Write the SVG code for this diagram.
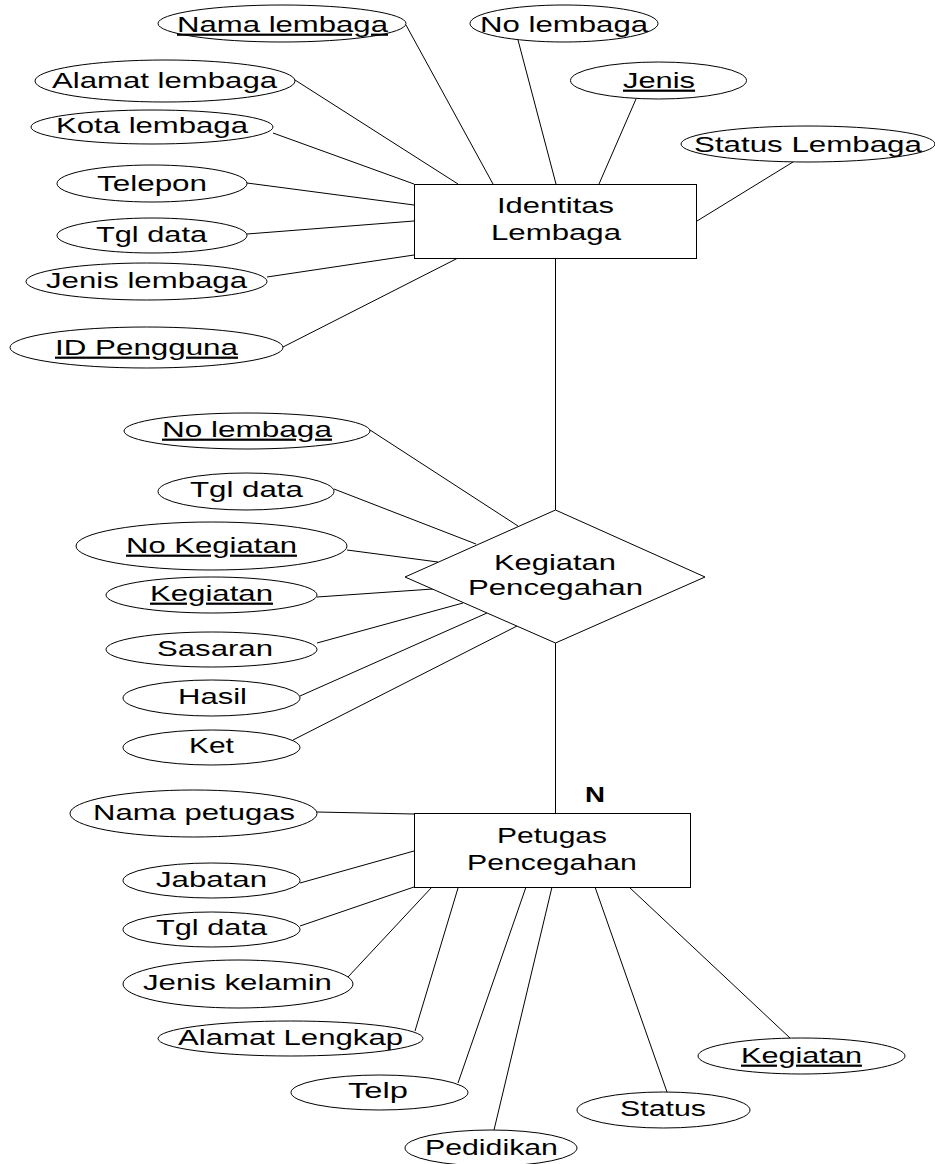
<svg xmlns="http://www.w3.org/2000/svg" width="935" height="1164" viewBox="0 0 935 1164">
  <style>
    .shape { fill: #ffffff; stroke: #000000; stroke-width: 1; }
    .link { stroke: #000000; stroke-width: 1; fill: none; }
    text { font-family: "Liberation Sans", Arial, sans-serif; font-size: 22px; fill: #000000; }
    .key { text-decoration: underline; }
    .card { font-weight: bold; }
  </style>
  <!-- labels are set in a horizontally widened face: matrix(1.45 0 0 1 x y) -->

  <!-- connectors -->
  <g id="connectors">
    <!-- Identitas Lembaga attributes -->
    <line class="link" x1="406" y1="25" x2="493" y2="184"/>
    <line class="link" x1="295" y1="80" x2="458" y2="184"/>
    <line class="link" x1="273" y1="133" x2="414" y2="184"/>
    <line class="link" x1="247" y1="183" x2="414" y2="205"/>
    <line class="link" x1="247" y1="234" x2="414" y2="221"/>
    <line class="link" x1="267" y1="277" x2="414" y2="255"/>
    <line class="link" x1="283" y1="347" x2="458" y2="258"/>
    <line class="link" x1="518" y1="40" x2="556" y2="184"/>
    <line class="link" x1="636" y1="99" x2="599" y2="184"/>
    <line class="link" x1="793" y1="162" x2="697" y2="221"/>
    <!-- entity to relationship -->
    <line class="link" x1="555.5" y1="258" x2="555.5" y2="510"/>
    <!-- Kegiatan Pencegahan attributes -->
    <line class="link" x1="370" y1="430" x2="518" y2="526"/>
    <line class="link" x1="334" y1="489" x2="476" y2="544"/>
    <line class="link" x1="347" y1="550" x2="438" y2="562"/>
    <line class="link" x1="317" y1="597" x2="433" y2="589"/>
    <line class="link" x1="317" y1="643" x2="463" y2="603"/>
    <line class="link" x1="300" y1="696" x2="487" y2="613"/>
    <line class="link" x1="293" y1="740" x2="517" y2="626"/>
    <!-- relationship to entity -->
    <line class="link" x1="555.5" y1="643" x2="555.5" y2="813"/>
    <!-- Petugas Pencegahan attributes -->
    <line class="link" x1="317" y1="812" x2="414" y2="814"/>
    <line class="link" x1="300" y1="883" x2="414" y2="851"/>
    <line class="link" x1="300" y1="926" x2="414" y2="887"/>
    <line class="link" x1="348" y1="977" x2="432" y2="887"/>
    <line class="link" x1="415" y1="1031" x2="458" y2="888"/>
    <line class="link" x1="458" y1="1083" x2="526" y2="887"/>
    <line class="link" x1="494" y1="1130" x2="552" y2="887"/>
    <line class="link" x1="667" y1="1092" x2="595" y2="887"/>
    <line class="link" x1="790" y1="1038" x2="629" y2="887"/>
  </g>

  <!-- entity: Identitas Lembaga -->
  <g id="identitas-lembaga">
    <rect class="shape" x="414.5" y="184.5" width="282" height="74"/>
    <text transform="matrix(1.45 0 0 1 497 213)" textLength="80.7" lengthAdjust="spacingAndGlyphs">Identitas</text>
    <text transform="matrix(1.45 0 0 1 491 240)" textLength="89.7" lengthAdjust="spacingAndGlyphs">Lembaga</text>
  </g>

  <g id="attr-nama-lembaga">
    <ellipse class="shape" cx="282" cy="23.5" rx="124" ry="18.5"/>
    <text class="key" transform="matrix(1.45 0 0 1 177 32)" textLength="145.5" lengthAdjust="spacingAndGlyphs">Nama lembaga</text>
  </g>
  <g id="attr-no-lembaga">
    <ellipse class="shape" cx="564" cy="23.5" rx="94" ry="18.5"/>
    <text transform="matrix(1.45 0 0 1 480 32)" textLength="115.9" lengthAdjust="spacingAndGlyphs">No lembaga</text>
  </g>
  <g id="attr-jenis">
    <ellipse class="shape" cx="658.5" cy="80.5" rx="88" ry="18.5"/>
    <text class="key" transform="matrix(1.45 0 0 1 623 88)" textLength="49.7" lengthAdjust="spacingAndGlyphs">Jenis</text>
  </g>
  <g id="attr-status-lembaga">
    <ellipse class="shape" cx="808" cy="144" rx="127" ry="18"/>
    <text transform="matrix(1.45 0 0 1 694 152)" textLength="157.2" lengthAdjust="spacingAndGlyphs">Status Lembaga</text>
  </g>
  <g id="attr-alamat-lembaga">
    <ellipse class="shape" cx="165" cy="81" rx="130" ry="21"/>
    <text transform="matrix(1.45 0 0 1 52 88)" textLength="155.2" lengthAdjust="spacingAndGlyphs">Alamat lembaga</text>
  </g>
  <g id="attr-kota-lembaga">
    <ellipse class="shape" cx="152" cy="127" rx="121" ry="17"/>
    <text transform="matrix(1.45 0 0 1 56 133)" textLength="132.4" lengthAdjust="spacingAndGlyphs">Kota lembaga</text>
  </g>
  <g id="attr-telepon">
    <ellipse class="shape" cx="152" cy="183.5" rx="95" ry="18.5"/>
    <text transform="matrix(1.45 0 0 1 97 191)" textLength="75.9" lengthAdjust="spacingAndGlyphs">Telepon</text>
  </g>
  <g id="attr-tgl-data-1">
    <ellipse class="shape" cx="152" cy="235.5" rx="95" ry="17.5"/>
    <text transform="matrix(1.45 0 0 1 96 242)" textLength="76.6" lengthAdjust="spacingAndGlyphs">Tgl data</text>
  </g>
  <g id="attr-jenis-lembaga">
    <ellipse class="shape" cx="146.5" cy="281.5" rx="120.5" ry="18.5"/>
    <text transform="matrix(1.45 0 0 1 46 288)" textLength="138.6" lengthAdjust="spacingAndGlyphs">Jenis lembaga</text>
  </g>
  <g id="attr-id-pengguna">
    <ellipse class="shape" cx="146.5" cy="347.5" rx="136.5" ry="20.5"/>
    <text class="key" transform="matrix(1.45 0 0 1 55 355)" textLength="126.2" lengthAdjust="spacingAndGlyphs">ID Pengguna</text>
  </g>

  <!-- relationship: Kegiatan Pencegahan -->
  <g id="kegiatan-pencegahan">
    <polygon class="shape" points="555.5,510 705,577 555.5,643 405,577"/>
    <text transform="matrix(1.45 0 0 1 494 570)" textLength="84.1" lengthAdjust="spacingAndGlyphs">Kegiatan</text>
    <text transform="matrix(1.45 0 0 1 468 595)" textLength="120.7" lengthAdjust="spacingAndGlyphs">Pencegahan</text>
  </g>

  <g id="attr-no-lembaga-2">
    <ellipse class="shape" cx="247" cy="431" rx="123" ry="18"/>
    <text class="key" transform="matrix(1.45 0 0 1 162 437)" textLength="117.2" lengthAdjust="spacingAndGlyphs">No lembaga</text>
  </g>
  <g id="attr-tgl-data-2">
    <ellipse class="shape" cx="246" cy="491.5" rx="88" ry="18.5"/>
    <text transform="matrix(1.45 0 0 1 190 497)" textLength="77.9" lengthAdjust="spacingAndGlyphs">Tgl data</text>
  </g>
  <g id="attr-no-kegiatan">
    <ellipse class="shape" cx="211.5" cy="546" rx="135.5" ry="24"/>
    <text class="key" transform="matrix(1.45 0 0 1 126 553)" textLength="117.9" lengthAdjust="spacingAndGlyphs">No Kegiatan</text>
  </g>
  <g id="attr-kegiatan-1">
    <ellipse class="shape" cx="211.5" cy="595" rx="105.5" ry="18"/>
    <text class="key" transform="matrix(1.45 0 0 1 150 601)" textLength="84.8" lengthAdjust="spacingAndGlyphs">Kegiatan</text>
  </g>
  <g id="attr-sasaran">
    <ellipse class="shape" cx="211.5" cy="649.5" rx="105.5" ry="17.5"/>
    <text transform="matrix(1.45 0 0 1 157 656)" textLength="80" lengthAdjust="spacingAndGlyphs">Sasaran</text>
  </g>
  <g id="attr-hasil">
    <ellipse class="shape" cx="211.5" cy="698" rx="88.5" ry="18"/>
    <text transform="matrix(1.45 0 0 1 178 704)" textLength="47.6" lengthAdjust="spacingAndGlyphs">Hasil</text>
  </g>
  <g id="attr-ket">
    <ellipse class="shape" cx="211.5" cy="747.5" rx="88.5" ry="17.5"/>
    <text transform="matrix(1.45 0 0 1 189 753)" textLength="31" lengthAdjust="spacingAndGlyphs">Ket</text>
  </g>

  <!-- cardinality -->
  <text class="card" transform="matrix(1.45 0 0 1 585 802)" textLength="13.8" lengthAdjust="spacingAndGlyphs">N</text>

  <!-- entity: Petugas Pencegahan -->
  <g id="petugas-pencegahan">
    <rect class="shape" x="414.5" y="813.5" width="276" height="74"/>
    <text transform="matrix(1.45 0 0 1 497 843)" textLength="75.9" lengthAdjust="spacingAndGlyphs">Petugas</text>
    <text transform="matrix(1.45 0 0 1 467 870)" textLength="117.2" lengthAdjust="spacingAndGlyphs">Pencegahan</text>
  </g>

  <g id="attr-nama-petugas">
    <ellipse class="shape" cx="193.5" cy="813.5" rx="123.5" ry="23.5"/>
    <text transform="matrix(1.45 0 0 1 93 820)" textLength="139.3" lengthAdjust="spacingAndGlyphs">Nama petugas</text>
  </g>
  <g id="attr-jabatan">
    <ellipse class="shape" cx="211.5" cy="880.5" rx="88.5" ry="17.5"/>
    <text transform="matrix(1.45 0 0 1 156 887)" textLength="76.6" lengthAdjust="spacingAndGlyphs">Jabatan</text>
  </g>
  <g id="attr-tgl-data-3">
    <ellipse class="shape" cx="211.5" cy="929.5" rx="88.5" ry="17.5"/>
    <text transform="matrix(1.45 0 0 1 156 935)" textLength="76.6" lengthAdjust="spacingAndGlyphs">Tgl data</text>
  </g>
  <g id="attr-jenis-kelamin">
    <ellipse class="shape" cx="238" cy="984" rx="115" ry="24"/>
    <text transform="matrix(1.45 0 0 1 143 990)" textLength="130.3" lengthAdjust="spacingAndGlyphs">Jenis kelamin</text>
  </g>
  <g id="attr-alamat-lengkap">
    <ellipse class="shape" cx="290.5" cy="1038.5" rx="132.5" ry="17.5"/>
    <text transform="matrix(1.45 0 0 1 178 1045)" textLength="155.2" lengthAdjust="spacingAndGlyphs">Alamat Lengkap</text>
  </g>
  <g id="attr-telp">
    <ellipse class="shape" cx="379.5" cy="1092.5" rx="88.5" ry="17.5"/>
    <text transform="matrix(1.45 0 0 1 348 1098)" textLength="41.4" lengthAdjust="spacingAndGlyphs">Telp</text>
  </g>
  <g id="attr-pedidikan">
    <ellipse class="shape" cx="491" cy="1148" rx="86" ry="18"/>
    <text transform="matrix(1.45 0 0 1 425 1155)" textLength="91.7" lengthAdjust="spacingAndGlyphs">Pedidikan</text>
  </g>
  <g id="attr-status">
    <ellipse class="shape" cx="663.5" cy="1110" rx="86.5" ry="18"/>
    <text transform="matrix(1.45 0 0 1 620 1116)" textLength="59.3" lengthAdjust="spacingAndGlyphs">Status</text>
  </g>
  <g id="attr-kegiatan-2">
    <ellipse class="shape" cx="801.5" cy="1056" rx="103.5" ry="18"/>
    <text class="key" transform="matrix(1.45 0 0 1 741 1063)" textLength="83.4" lengthAdjust="spacingAndGlyphs">Kegiatan</text>
  </g>
</svg>
